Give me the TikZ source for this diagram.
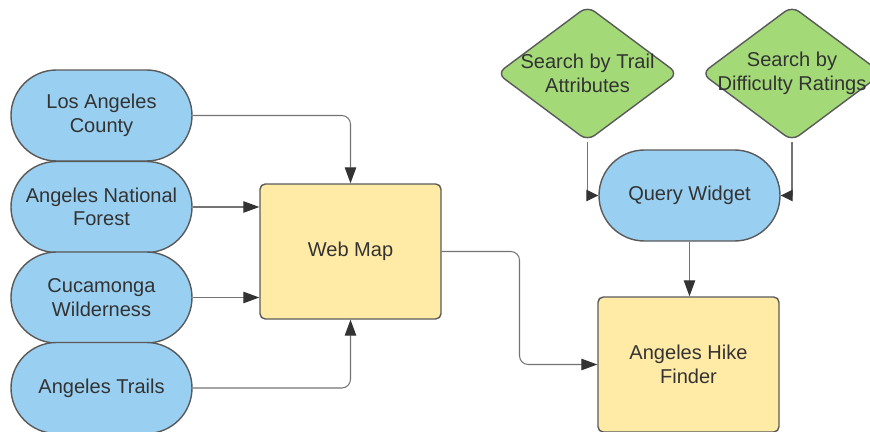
\documentclass[tikz,border=0pt]{standalone}
\usepackage{fontspec}
\setmainfont{Liberation Sans}
\usetikzlibrary{shapes.geometric, arrows.meta, positioning, calc}
\definecolor{sourceblue}{RGB}{153, 207, 240}
\definecolor{mapyellow}{RGB}{255, 235, 166}
\definecolor{searchgreen}{RGB}{163, 217, 119}
\definecolor{edgegray}{RGB}{90, 90, 90}
\definecolor{linegray}{RGB}{115, 115, 115}
\definecolor{textdark}{RGB}{51, 51, 51}

\begin{document}
\begin{tikzpicture}[
    font=\fontsize{11.4}{13.3}\selectfont,
    source/.style={rectangle, draw=edgegray, fill=sourceblue, rounded corners=0.91cm, minimum width=3.62cm, minimum height=1.82cm, align=center, text=textdark, line width=0.8pt},
    mapbox/.style={rectangle, draw=edgegray, fill=mapyellow, rounded corners=3pt, minimum width=3.62cm, minimum height=2.7cm, align=center, text=textdark, line width=0.8pt},
    search/.style={diamond, draw=edgegray, fill=searchgreen, rounded corners=5pt, minimum width=3.62cm, minimum height=2.7cm, inner sep=0pt, line width=0.8pt},
    searchtext/.style={align=center, text=textdark},
    conn/.style={-{Triangle[length=3.2mm, width=2.3mm, color=textdark]}, color=linegray, line width=0.6pt, rounded corners=5pt},
    shortconn/.style={-{Triangle[length=2.4mm, width=2.3mm, color=textdark]}, color=linegray, line width=0.6pt},
]
\useasboundingbox (0, 0) rectangle (17.4, 8.62);

% Data layers
\node[source] (lacounty) at (2.03, 6.31) {Los Angeles\\County};
\node[source] (forest) at (2.03, 4.48) {Angeles National\\Forest};
\node[source] (wilderness) at (2.03, 2.67) {Cucamonga\\Wilderness};
\node[source] (trails) at (2.03, 0.86) {Angeles Trails};

% Web map
\node[mapbox] (webmap) at (7.01, 3.59) {Web Map};

% Search options
\node[search, label={[searchtext]center:Search by Trail\\Attributes}] (attrs) at (11.75, 7.15) {};
\node[search, label={[searchtext]center:Search by\\Difficulty Ratings}] (ratings) at (15.84, 7.15) {};

% Query widget and app
\node[source] (query) at (13.79, 4.71) {Query Widget};
\node[mapbox] (finder) at (13.77, 1.33) {Angeles Hike\\Finder};

% Layers into the map
\draw[conn] (lacounty.east) -| (webmap.north);
\draw[conn] (forest.east) -- (forest.east -| webmap.west);
\draw[conn] (wilderness.east) -- (wilderness.east -| webmap.west);
\draw[conn] (trails.east) -| (webmap.south);

% Map and widget into the app
\draw[conn] (webmap.east) -| ($(webmap.east)!0.5!(finder.west)$) |- (finder.west);
\draw[conn] (query.south) -- (query.south |- finder.north);

% Searches into the widget
\draw[shortconn] (attrs.south) |- (query.west);
\draw[shortconn] (ratings.south) |- (query.east);

\end{tikzpicture}
\end{document}
